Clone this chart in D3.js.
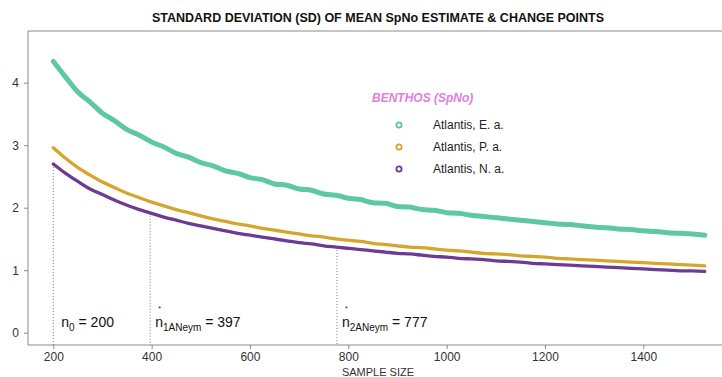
<!DOCTYPE html>
<html>
<head>
<meta charset="utf-8">
<script src="https://cdn.jsdelivr.net/npm/d3@7"></script>
<style>
  body { margin: 0; background: #fff; }
  svg { display: block; font-family: "Liberation Sans", Arial, sans-serif; }
</style>
</head>
<body>
<svg id="chart" width="722" height="377"></svg>
<script>
// sample sizes (every 25 from 200 to 1525)
var sampleSize = [200,225,250,275,300,325,350,375,400,425,450,475,500,525,550,575,600,625,650,675,
  700,725,750,775,800,825,850,875,900,925,950,975,1000,1025,1050,1075,1100,1125,1150,1175,
  1200,1225,1250,1275,1300,1325,1350,1375,1400,1425,1450,1475,1500,1525];

var sdEa = [4.34,4.09,3.85,3.69,3.51,3.39,3.25,3.16,3.05,2.97,2.87,2.81,2.72,2.67,2.59,2.55,2.48,2.45,2.38,2.36,
  2.30,2.28,2.22,2.20,2.15,2.13,2.08,2.07,2.02,2.01,1.97,1.96,1.92,1.91,1.88,1.86,1.84,1.82,1.80,1.78,
  1.76,1.74,1.73,1.71,1.69,1.68,1.66,1.65,1.63,1.62,1.60,1.59,1.58,1.56];
var sdPa = [2.96,2.79,2.64,2.52,2.41,2.32,2.23,2.16,2.09,2.03,1.97,1.92,1.87,1.82,1.78,1.74,1.71,1.67,1.64,1.61,
  1.58,1.55,1.53,1.50,1.48,1.46,1.43,1.41,1.39,1.37,1.36,1.34,1.32,1.31,1.29,1.27,1.26,1.25,1.23,1.22,
  1.21,1.19,1.18,1.17,1.16,1.15,1.14,1.13,1.12,1.11,1.10,1.09,1.08,1.07];
var sdNa = [2.70,2.55,2.42,2.30,2.21,2.12,2.04,1.97,1.91,1.85,1.80,1.75,1.71,1.67,1.63,1.59,1.56,1.53,1.50,1.47,
  1.44,1.42,1.39,1.37,1.35,1.33,1.31,1.29,1.27,1.26,1.24,1.22,1.21,1.19,1.18,1.17,1.15,1.14,1.13,1.11,
  1.10,1.09,1.08,1.07,1.06,1.05,1.04,1.03,1.02,1.01,1.00,0.99,0.99,0.98];

var seriesNames = ["Atlantis, E. a.", "Atlantis, P. a.", "Atlantis, N. a."];
var seriesColors = ["#5ec7a3", "#d4a62e", "#6b3c92"];

var changePoints = [200, 397, 777];
var changeTops = [2.70, 1.92, 1.37];
var changeSubs = ["0", "1ANeym", "2ANeym"];

var xTicks = [200, 400, 600, 800, 1000, 1200, 1400];
var yTicks = [0, 1, 2, 3, 4];

var svg = d3.select("#chart");

var x = d3.scaleLinear().domain([200, 1400]).range([53.3, 643.3]);
var y = d3.scaleLinear().domain([0, 4]).range([332.7, 82.7]);

var boxLeft = 28, boxTop = 31, boxBottom = 345;

// box (right side is cut off)
svg.append("path")
    .attr("d", "M730," + boxTop + "H" + boxLeft + "V" + boxBottom + "H730")
    .attr("fill", "none")
    .attr("stroke", "#8a8a8a")
    .attr("stroke-width", 1);

// title
svg.append("text")
    .attr("x", 378).attr("y", 22)
    .attr("text-anchor", "middle")
    .style("font-weight", "bold").style("font-size", "12.5px")
    .attr("fill", "#111")
    .text("STANDARD DEVIATION (SD) OF MEAN SpNo ESTIMATE & CHANGE POINTS");

// y axis
var yAxis = svg.append("g").attr("transform", "translate(" + boxLeft + ",0)")
    .call(d3.axisLeft(y).tickValues(yTicks).tickSize(4).tickPadding(5).tickFormat(d3.format("d")));
yAxis.select(".domain").remove();
yAxis.selectAll("line").attr("stroke", "#8a8a8a");
yAxis.selectAll("text").style("font-size", "12px").attr("fill", "#333")
    .style("font-family", "Liberation Sans, Arial, sans-serif");

// x axis
var xAxis = svg.append("g").attr("transform", "translate(0," + boxBottom + ")")
    .call(d3.axisBottom(x).tickValues(xTicks).tickSize(4).tickPadding(3).tickFormat(d3.format("d")));
xAxis.select(".domain").remove();
xAxis.selectAll("line").attr("stroke", "#8a8a8a");
xAxis.selectAll("text").style("font-size", "12px").attr("fill", "#333")
    .style("font-family", "Liberation Sans, Arial, sans-serif");

svg.append("text")
    .attr("x", 378).attr("y", 376)
    .attr("text-anchor", "middle")
    .style("font-size", "11px").attr("fill", "#333")
    .text("SAMPLE SIZE");

// change point guides
svg.append("g").selectAll("line")
    .data(changePoints)
    .enter().append("line")
      .attr("x1", function(d) { return x(d); })
      .attr("x2", function(d) { return x(d); })
      .attr("y1", function(d, i) { return y(changeTops[i]); })
      .attr("y2", boxBottom)
      .attr("stroke", "#555")
      .attr("stroke-width", 0.8)
      .attr("stroke-dasharray", "1,2");

var lbl = svg.append("g").selectAll("text")
    .data(changePoints)
    .enter().append("text")
      .attr("x", function(d, i) { return x(d) + (i == 0 ? 8 : 5); })
      .attr("y", 327)
      .style("font-size", "14px").attr("fill", "#111");
lbl.append("tspan").text("n");
lbl.append("tspan")
    .attr("dy", 4)
    .style("font-size", "10px")
    .text(function(d, i) { return changeSubs[i]; });
lbl.append("tspan")
    .attr("dy", -4)
    .text(function(d) { return " = " + d; });

// the small star above n for the two estimated change points
svg.append("g").selectAll("text")
    .data(changePoints.slice(1))
    .enter().append("text")
      .attr("x", function(d) { return x(d) + 8; })
      .attr("y", 311)
      .style("font-size", "7px").attr("fill", "#111")
      .text("*");

// series
var allSeries = [sdEa, sdPa, sdNa];
var widths = [5, 3.3, 3.3];
var line = d3.line()
    .x(function(d, i) { return x(sampleSize[i]); })
    .y(function(d) { return y(d); })
    .curve(d3.curveMonotoneX);

svg.append("g").selectAll("path")
    .data(allSeries)
    .enter().append("path")
      .attr("d", line)
      .attr("fill", "none")
      .attr("stroke", function(d, i) { return seriesColors[i]; })
      .attr("stroke-width", function(d, i) { return widths[i]; })
      .attr("stroke-linecap", "round");

// legend
svg.append("text")
    .attr("x", 372).attr("y", 102)
    .style("font-size", "12px").style("font-weight", "bold").style("font-style", "italic")
    .attr("fill", "#e07ee0")
    .text("BENTHOS (SpNo)");

var leg = svg.append("g").selectAll("g")
    .data(seriesNames)
    .enter().append("g")
      .attr("transform", function(d, i) { return "translate(399," + (125 + i * 22) + ")"; });
leg.append("circle")
    .attr("r", 2.6)
    .attr("fill", "none")
    .attr("stroke", function(d, i) { return seriesColors[i]; })
    .attr("stroke-width", 1.8);
leg.append("text")
    .attr("x", 34).attr("y", 4)
    .style("font-size", "12px").attr("fill", "#222")
    .text(function(d) { return d; });
</script>
</body>
</html>
